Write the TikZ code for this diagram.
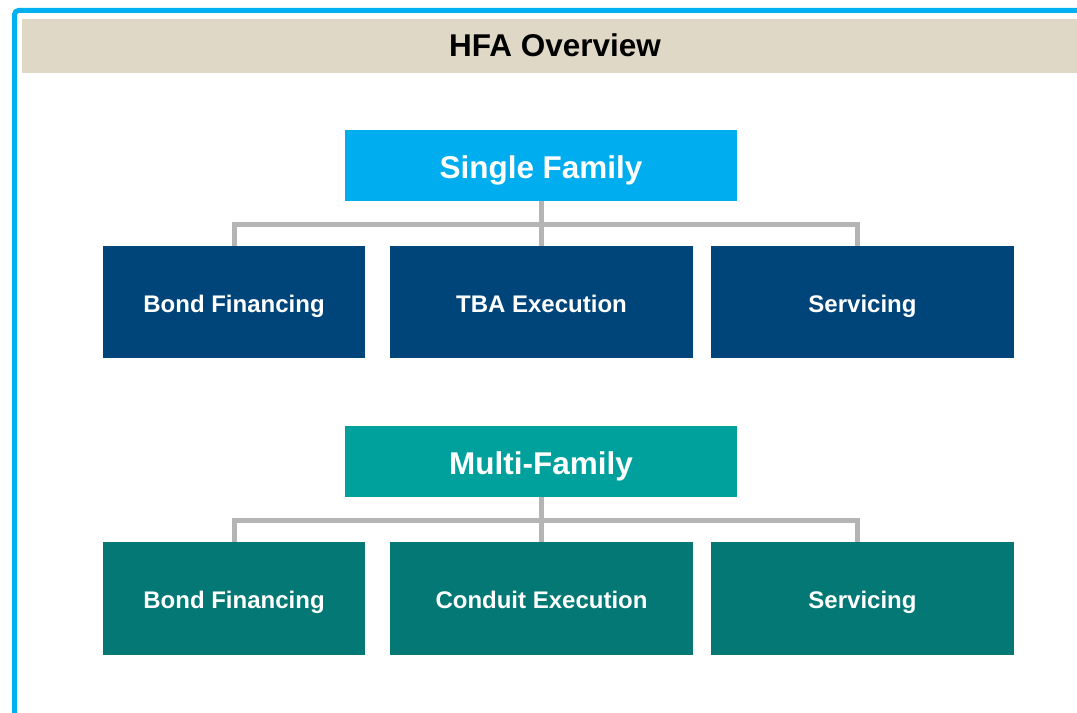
\documentclass[tikz,border=0pt]{standalone}
\usepackage{fontspec}
\setmainfont{Liberation Sans}
\usetikzlibrary{positioning}

\definecolor{frameblue}{HTML}{00B0F0}
\definecolor{bandbeige}{HTML}{E0D8C7}
\definecolor{sfblue}{HTML}{00ADEF}
\definecolor{sfdark}{HTML}{00457A}
\definecolor{mfteal}{HTML}{00A19D}
\definecolor{mfdark}{HTML}{037874}
\definecolor{linkgray}{HTML}{B4B4B4}

\tikzset{
  headbox/.style={rectangle, fill=#1, text=white, font=\bfseries\fontsize{23.6}{28}\selectfont,
    minimum width=294pt, minimum height=53.25pt, text height=19.9pt, text depth=0pt, inner sep=0pt},
  subbox/.style={rectangle, fill=#1, text=white, font=\bfseries\fontsize{18}{22}\selectfont,
    minimum height=84pt, text height=15.4pt, text depth=0pt, inner sep=0pt},
  link/.style={draw=linkgray, line width=3.75pt, line join=miter}
}

\begin{document}
\begin{tikzpicture}[x=0.75pt, y=-0.75pt]
					\useasboundingbox (0,0) rectangle (1077,713);
					\draw[frameblue, line width=3.75pt, rounded corners=3pt] (14.5,713) -- (14.5,10.5) -- (1077,10.5);
					\fill[bandbeige] (22,19) rectangle (1077,72.7);
					\node[font=\bfseries\fontsize{23.6}{28}\selectfont, text height=16.9pt, text depth=0pt, inner sep=0pt] (title) at (555,45.5) {HFA Overview};

					% single family
					\node[headbox=sfblue] (sf) at (541,165.5) {Single Family};
					\node[subbox=sfdark, minimum width=196.5pt] (sf1) at (234,302) {Bond Financing};
					\node[subbox=sfdark, minimum width=227.25pt] (sf2) at (541.5,302) {TBA Execution};
					\node[subbox=sfdark, minimum width=227.25pt] (sf3) at (862.5,302) {Servicing};
					\coordinate (sfbar) at (541,224.5);

					% multi family
					\node[headbox=mfteal] (mf) at (541,461.5) {Multi-Family};
					\node[subbox=mfdark, minimum width=196.5pt, minimum height=84.75pt] (mf1) at (234,598.5) {Bond Financing};
					\node[subbox=mfdark, minimum width=227.25pt, minimum height=84.75pt] (mf2) at (541.5,598.5) {Conduit Execution};
					\node[subbox=mfdark, minimum width=227.25pt, minimum height=84.75pt] (mf3) at (862.5,598.5) {Servicing};
					\coordinate (mfbar) at (541,520.5);

					\path[link]
						(sf.south) edge (sf.south |- sf2.north)
						(mf.south) edge (mf.south |- mf2.north)
					;
					\draw[link] (sf1.north) |- (sfbar) -| ([xshift=-3.4pt]sf3.north);
					\draw[link] (mf1.north) |- (mfbar) -| ([xshift=-3.4pt]mf3.north);
				\end{tikzpicture}
\end{document}
